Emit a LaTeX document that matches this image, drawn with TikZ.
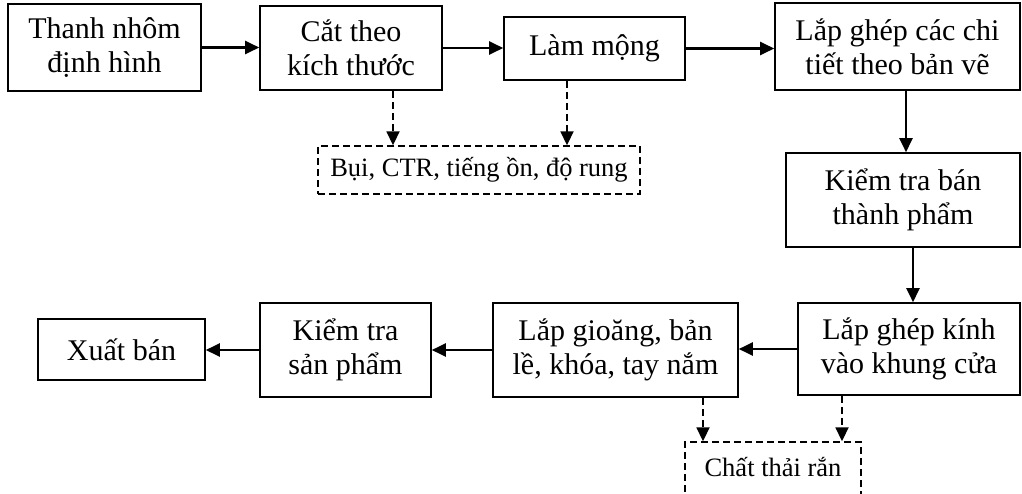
\documentclass[tikz,border=0pt]{standalone}
\usepackage{fontspec}
\setmainfont{Liberation Serif}
\usetikzlibrary{arrows.meta, positioning, calc}
\tikzset{
  stepbox/.style={rectangle, draw=black, line width=1.6pt,
    inner sep=2pt, text centered, align=center,
    font=\fontsize{30pt}{34pt}\selectfont},
  wastebox/.style={rectangle, draw=black, line width=1.4pt,
    dash pattern=on 7pt off 4pt, inner sep=2pt, text centered,
    font=\fontsize{26.5pt}{30pt}\selectfont},
  arr/.style={-{Triangle[length=14pt, width=13pt]}, line width=2.2pt, draw=black},
  darr/.style={-{Triangle[length=14pt, width=13pt]}, line width=1.8pt,
    dash pattern=on 7pt off 4pt, draw=black},
}

\begin{document}
\begin{tikzpicture}[x=1pt, y=-1pt]
\useasboundingbox (0,0) rectangle (1022,493);

% main flow
\node (thanh) [stepbox, minimum width=193pt, minimum height=87pt] at (104.5,47.5)
  {Thanh nhôm\\định hình};
\node (cat) [stepbox, minimum width=182pt, minimum height=84pt] at (351,48)
  {Cắt theo\\kích thước};
\node (mong) [stepbox, minimum width=181pt, minimum height=63pt] at (594.5,48.5)
  {Làm mộng};
\node (ghep) [stepbox, minimum width=245pt, minimum height=87pt] at (897.5,46.5)
  {Lắp ghép các chi\\tiết theo bản vẽ};
\node (kiemban) [stepbox, minimum width=234pt, minimum height=94pt] at (903,200)
  {Kiểm tra bán\\thành phẩm};
\node (kinh) [stepbox, minimum width=222pt, minimum height=92pt] at (909,349)
  {Lắp ghép kính\\vào khung cửa};
\node (gioang) [stepbox, minimum width=245pt, minimum height=94pt] at (615.5,350)
  {Lắp gioăng, bản\\lề, khóa, tay nắm};
\node (kiemsp) [stepbox, minimum width=171pt, minimum height=94pt] at (345.5,350)
  {Kiểm tra\\sản phẩm};
\node (xuat) [stepbox, minimum width=167pt, minimum height=61pt] at (121.5,349.5)
  {Xuất bán};

% waste
\node (bui) [wastebox, minimum width=322pt, minimum height=48pt] at (479,170)
  {Bụi, CTR, tiếng ồn, độ rung};
\node (ctr) [wastebox, minimum width=176pt, minimum height=100pt, text depth=50pt] at (773,492)
  {Chất thải rắn};

\draw[arr] (thanh.east) -- (thanh.east -| cat.west);
\draw[arr] (cat.east)   -- (cat.east -| mong.west);
\draw[arr] (mong.east)  -- (mong.east -| ghep.west);
\draw[arr] ([xshift=8.5pt]ghep.south) -- ([xshift=8.5pt]ghep.south |- kiemban.north);
\draw[arr] ([xshift=10pt]kiemban.south) -- ([xshift=10pt]kiemban.south |- kinh.north);
\draw[arr] (kinh.west)   -- (kinh.west -| gioang.east);
\draw[arr] (gioang.west) -- (gioang.west -| kiemsp.east);
\draw[arr] (kiemsp.west) -- (kiemsp.west -| xuat.east);

\draw[darr] ([xshift=42pt]cat.south) -- ([xshift=42pt]cat.south |- bui.north);
\draw[darr] ([xshift=-27.5pt]mong.south) -- ([xshift=-27.5pt]mong.south |- bui.north);
\draw[darr] ([xshift=87.5pt]gioang.south) -- ([xshift=87.5pt]gioang.south |- ctr.north);
\draw[darr] ([xshift=-67pt]kinh.south) -- ([xshift=-67pt]kinh.south |- ctr.north);

\end{tikzpicture}
\end{document}
